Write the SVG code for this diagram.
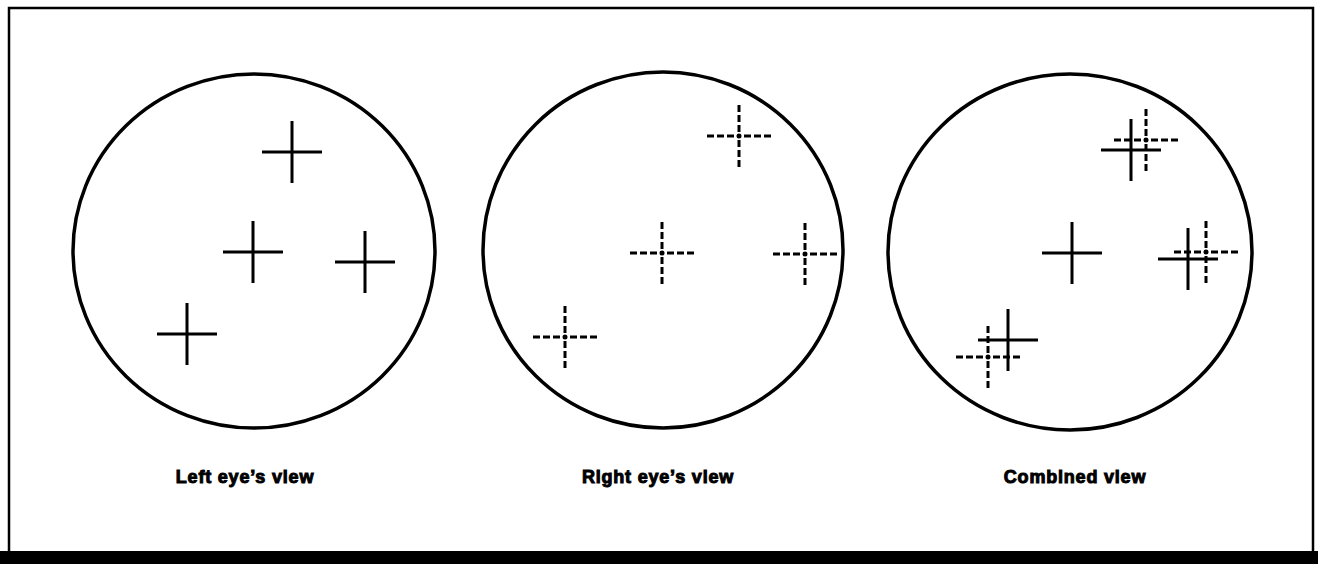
<svg xmlns="http://www.w3.org/2000/svg" xmlns:xlink="http://www.w3.org/1999/xlink" width="1318" height="564" viewBox="0 0 1318 564">
<style>
.frame{fill:#fff;stroke:#000;stroke-width:2.5}
.band{fill:#000}
.view{fill:none;stroke:#000;stroke-width:3.5}
.solid{stroke:#000;stroke-width:3;fill:none;stroke-linecap:butt}
.dash{stroke:#000;stroke-width:3;fill:none;stroke-dasharray:7 3}
.dot{fill:#000}
.label{font-family:"Liberation Sans",Arial,sans-serif;font-weight:bold;font-size:18px;letter-spacing:0.8px;fill:#000;stroke:#000;stroke-width:1;text-anchor:middle}
</style>
<defs>
<g id="solidCross">
<path class="solid" d="M-30 0H30M0 -31V31"/>
</g>
<g id="dashCross">
<path class="dash" d="M-32 0H0M32 0H0M0 -31V0M0 31V0"/>
<circle class="dot" r="2.5"/>
</g>
</defs>
<rect class="frame" x="9" y="8" width="1304" height="550"/>
<rect class="band" x="0" y="551" width="1318" height="13"/>

<g id="left-eye">
<ellipse class="view" cx="254" cy="251" rx="181" ry="177"/>
<use xlink:href="#solidCross" x="292" y="152"/>
<use xlink:href="#solidCross" x="253" y="252"/>
<use xlink:href="#solidCross" x="365" y="262"/>
<use xlink:href="#solidCross" x="187" y="334"/>
<text class="label" x="245" y="483">Left eye’s view</text>
</g>

<g id="right-eye">
<ellipse class="view" cx="663" cy="250" rx="180" ry="178"/>
<use xlink:href="#dashCross" x="739" y="136"/>
<use xlink:href="#dashCross" x="662" y="253"/>
<use xlink:href="#dashCross" x="805" y="254"/>
<use xlink:href="#dashCross" x="565" y="337"/>
<text class="label" x="658" y="483">Right eye’s view</text>
</g>

<g id="combined">
<ellipse class="view" cx="1070" cy="252" rx="182" ry="178"/>
<use xlink:href="#solidCross" x="1131" y="150"/>
<use xlink:href="#dashCross" x="1146" y="140"/>
<use xlink:href="#solidCross" x="1072" y="253"/>
<use xlink:href="#solidCross" x="1188" y="259"/>
<use xlink:href="#dashCross" x="1206" y="252"/>
<use xlink:href="#solidCross" x="1008" y="340"/>
<use xlink:href="#dashCross" x="988" y="357"/>
<text class="label" x="1075" y="483">Combined view</text>
</g>

<g id="connectors"></g>
</svg>
